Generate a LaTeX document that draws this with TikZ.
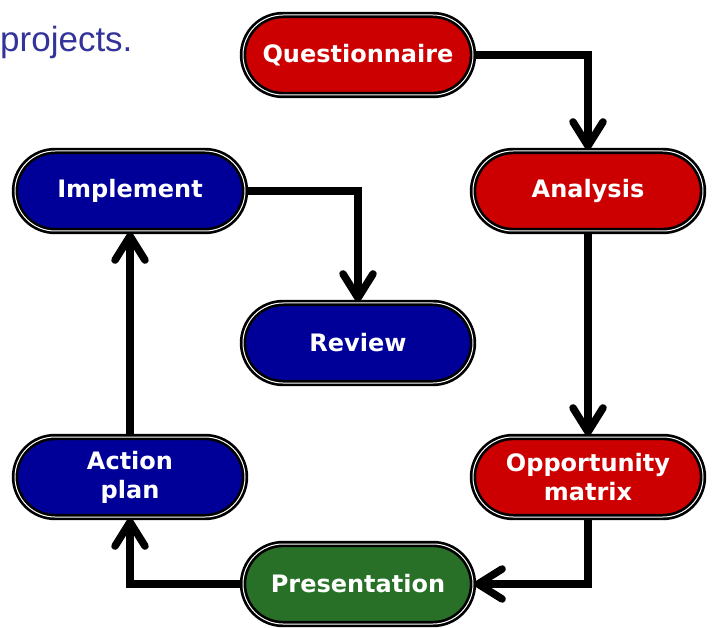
\documentclass[tikz,border=0pt]{standalone}
\usepackage{fontspec}
\setmainfont{Liberation Sans}
\newfontfamily\boxfont{DejaVu Sans}
\usetikzlibrary{arrows.meta}

\definecolor{boxred}{RGB}{204,0,0}
\definecolor{boxblue}{RGB}{0,0,153}
\definecolor{boxgreen}{RGB}{40,112,40}
\definecolor{textblue}{RGB}{51,51,153}

\begin{document}
\begin{tikzpicture}[x = 1pt, y = -1pt]
	\tikzstyle{BoxStyle} = [shape = rectangle, rounded corners = 40pt, minimum width = 230pt, minimum height = 80pt, draw = black, line width = 2.7pt, double = white, double distance = 1pt, text = white, align = center, font = \boxfont\bfseries\fontsize{24}{29}\selectfont]
	\tikzstyle{redStyle} = [BoxStyle, fill = boxred]
	\tikzstyle{blueStyle} = [BoxStyle, fill = boxblue]
	\tikzstyle{greenStyle} = [BoxStyle, fill = boxgreen]
	\tikzstyle{FlowStyle} = [draw = black, line width = 7.5pt, -{Straight Barb[length = 24pt, width = 30pt, round]}]
	\useasboundingbox (0,0) rectangle (712,628);
	\node[anchor = base west, text = textblue, font = \fontsize{35}{41}\selectfont, inner sep = 0pt] (caption) at (0,52) {projects.};
	\node[redStyle] (quest) at (358,55) {Questionnaire};
	\node[redStyle] (analysis) at (588,191) {Analysis};
	\node[redStyle] (opportunity) at (588,477) {Opportunity\\matrix};
	\node[greenStyle] (presentation) at (358,584) {Presentation};
	\node[blueStyle] (actionplan) at (130,477) {Action\\plan};
	\node[blueStyle] (implement) at (130,191) {Implement};
	\node[blueStyle] (review) at (358,343) {Review};
	\draw[FlowStyle] (quest.east) -| (analysis.north);
	\draw[FlowStyle] (analysis) -- (opportunity);
	\draw[FlowStyle] (opportunity.south) |- (presentation.east);
	\draw[FlowStyle] (presentation.west) -| (actionplan.south);
	\draw[FlowStyle] (actionplan) -- (implement);
	\draw[FlowStyle] (implement.east) -| (review.north);
\end{tikzpicture}
\end{document}
